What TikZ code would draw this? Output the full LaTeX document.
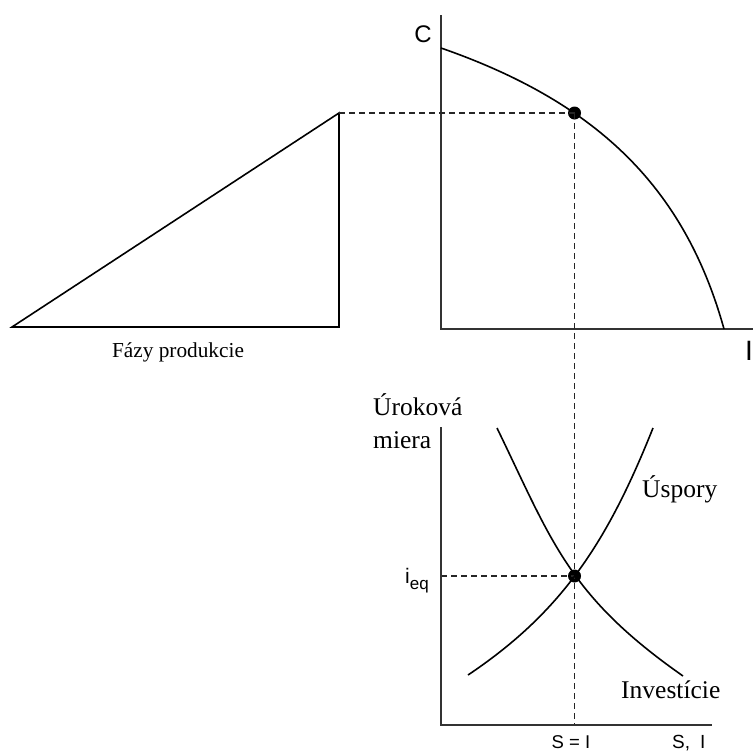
\documentclass[tikz,border=0pt]{standalone}
\usepackage{fontspec}
\setmainfont{Liberation Serif}
\newfontfamily\sansf{Liberation Sans}
\begin{document}
\begin{tikzpicture}[x=1pt,y=-1pt,
  ln/.style={line width=1.8pt,black!80},
  cv/.style={line width=1.6pt,black},
  dsh/.style={line width=1.4pt,dash pattern=on 6pt off 4pt,black!85},
  dotn/.style={circle,fill=black,inner sep=0pt,minimum size=13pt},
  lbl/.style={inner sep=0pt},
  serifl/.style={lbl,font=\fontsize{25.5}{30}\selectfont},
]
\path[fill=white] (0,0) rectangle (755,753);
\useasboundingbox (0,0) rectangle (755,753);
% top PPF axes
\coordinate (Ctop) at (441,15);
\coordinate (O1) at (441,329);
\coordinate (Iend) at (753,329);
\draw[ln] (Ctop) -- (O1) -- (Iend);
% PPF curve
\coordinate (P0) at (441,48);
\coordinate (P3) at (724,329);
\draw[cv] (P0) .. controls (599,103) and (685,189) .. (P3);
% triangle
\coordinate (T1) at (12,327);
\coordinate (T2) at (339,327);
\coordinate (T3) at (339,113);
\draw[cv] (T1) -- (T2) -- (T3) -- cycle;
% dots and dashed
\node[dotn] (E1) at (574.5,113) {};
\node[dotn] (E2) at (574.5,576) {};
\coordinate (Bx) at (574.5,725);
\coordinate (By) at (441,576);
\draw[dsh] (T3) -- (E1.center);
\draw[dsh] (E1.center) -- (Bx);
\draw[dsh] (By) -- (E2.center);
% bottom axes
\coordinate (Itop) at (441,427);
\coordinate (O2) at (441,725);
\coordinate (Send) at (712,725);
\draw[ln] (Itop) -- (O2) -- (Send);
% savings and investment curves
\coordinate (S0) at (468,675);
\coordinate (S1) at (653,428);
\draw[cv] (S0) .. controls (563,611.4) and (608,540.5) .. (S1);
\coordinate (I0) at (497,428);
\coordinate (I1) at (683,676);
\draw[cv] (I0) .. controls (552,541.3) and (568,595.5) .. (I1);
% labels
\node[lbl,font=\sansf\fontsize{24}{28}\selectfont] (labC) at (423,34.5) {C};
\node[lbl,font=\sansf\fontsize{28}{32}\selectfont] (labI) at (749,351) {I};
\node[lbl,font=\fontsize{21.3}{25}\selectfont] (labF) at (178,352) {Fázy produkcie};
\node[serifl,anchor=base west] (labU1) at (373,415) {Úroková};
\node[serifl,anchor=base west] (labU2) at (373,448) {miera};
\node[serifl,anchor=base west] (labS) at (642,497) {Úspory};
\node[serifl,anchor=base west] (labInv) at (621,698) {Investície};
\node[lbl,anchor=base west,font=\sansf\fontsize{21}{24}\selectfont] (labieq) at (405,583) {i\raisebox{-6pt}{\fontsize{17}{20}\selectfont eq}};
\node[lbl,anchor=base,font=\sansf\fontsize{18.5}{22}\selectfont] (labSI) at (571,748) {S = I};
\node[lbl,anchor=base west,font=\sansf\fontsize{19}{22}\selectfont] (labSI2) at (672,748) {S,\hspace{10pt}I};
\end{tikzpicture}
\end{document}
